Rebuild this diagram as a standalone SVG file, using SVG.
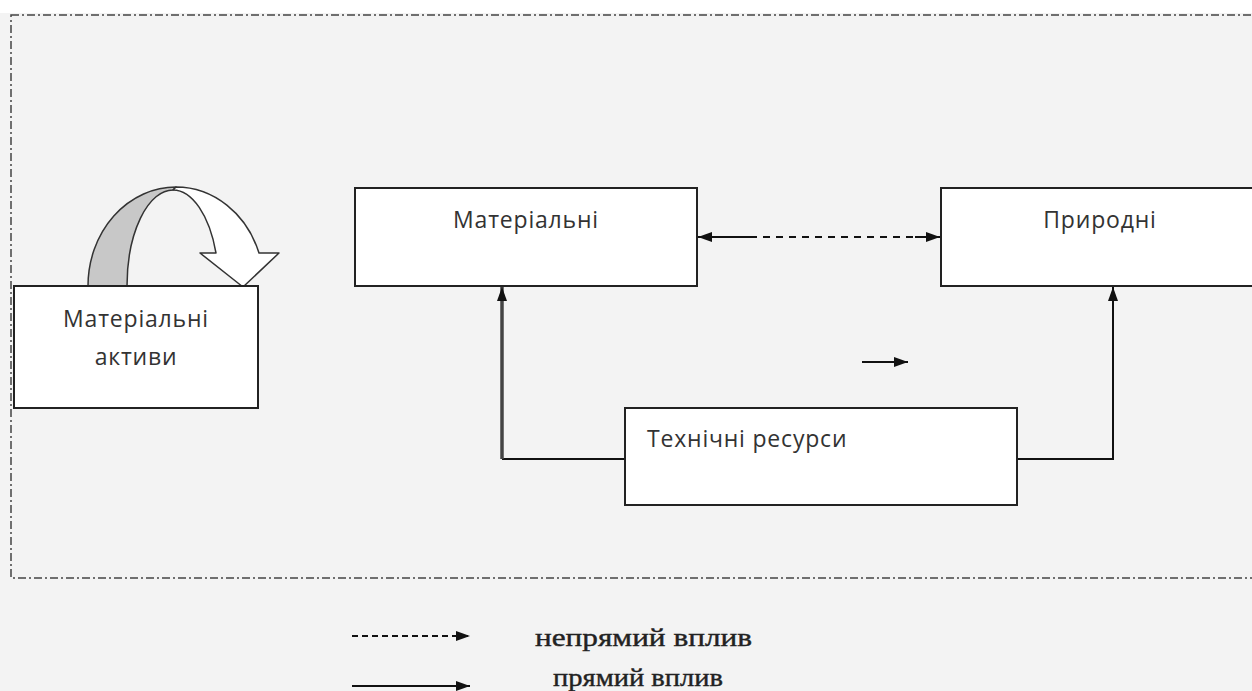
<svg xmlns="http://www.w3.org/2000/svg" width="1252" height="691" viewBox="0 0 1252 691">
<style>
.node{fill:#ffffff;stroke:#222;stroke-width:2}
.lbl{font-family:"Open Sans","Liberation Sans",sans-serif;font-size:23px;letter-spacing:0.8px;fill:#333}
.leg{font-family:"Liberation Serif",serif;font-size:26px;fill:#222;stroke:#222;stroke-width:0.4}
.ln{fill:none;stroke:#111;stroke-width:2}
</style>
<defs>
<marker id="ah" viewBox="0 0 14 10" refX="14" refY="5" markerWidth="14" markerHeight="10" markerUnits="userSpaceOnUse" orient="auto-start-reverse">
<path d="M0,0 L14,5 L0,10 Z" fill="#111"/>
</marker>
</defs>
<rect x="0" y="0" width="1252" height="691" fill="#f3f3f3"/>
<rect x="0" y="0" width="1252" height="13" fill="#ffffff"/>
<rect id="frame" x="11" y="15" width="1270" height="563" fill="none" stroke="#444" stroke-width="1.5" stroke-dasharray="8 3 2 3"/>

<g id="connectors">
<path class="ln" d="M625,459 H502" />
<path d="M502,459 V287" fill="none" stroke="#444" stroke-width="3.5" marker-end="url(#ah)"/>
<path class="ln" d="M1017,459 H1113 V287" marker-end="url(#ah)"/>
<path class="ln" d="M750,237 H698" marker-end="url(#ah)"/>
<path class="ln" d="M750,237 H915" stroke-dasharray="7 6"/>
<path class="ln" d="M915,237 H940" marker-end="url(#ah)"/>
<path class="ln" d="M862,362 H908" marker-end="url(#ah)"/>
<path class="ln" d="M352,636 H470" stroke-dasharray="6 4" marker-end="url(#ah)"/>
<path class="ln" d="M352,686 H470" marker-end="url(#ah)"/>
</g>

<g id="uturn-arrow" stroke="#333" stroke-width="1.5" stroke-linejoin="round">
<path d="M88,286 A88,99 0 0 1 176,187 L173,190 A46,96 0 0 0 127,286 Z" fill="#c8c8c8"/>
<path d="M176,187 A88,99 0 0 1 259,253 L279,253 L243,287 L200,253 L216,253 A46,96 0 0 0 173,190 Z" fill="#ffffff"/>
</g>

<g id="node-assets">
<rect class="node" x="14" y="286" width="244" height="122"/>
<text class="lbl" x="136" y="327" text-anchor="middle">Матеріальні</text>
<text class="lbl" x="136" y="365" text-anchor="middle">активи</text>
</g>
<g id="node-material">
<rect class="node" x="355" y="188" width="342" height="98"/>
<text class="lbl" x="526" y="228" text-anchor="middle">Матеріальні</text>
</g>
<g id="node-natural">
<rect class="node" x="941" y="188" width="330" height="98"/>
<text class="lbl" x="1100" y="228" text-anchor="middle">Природні</text>
</g>
<g id="node-technical">
<rect class="node" x="625" y="408" width="392" height="97"/>
<text class="lbl" x="647" y="447">Технічні ресурси</text>
</g>

<g id="legend">
<text class="leg" x="535" y="646" textLength="217" lengthAdjust="spacingAndGlyphs">непрямий вплив</text>
<text class="leg" x="553" y="686" textLength="170" lengthAdjust="spacingAndGlyphs">прямий вплив</text>
</g>
</svg>
